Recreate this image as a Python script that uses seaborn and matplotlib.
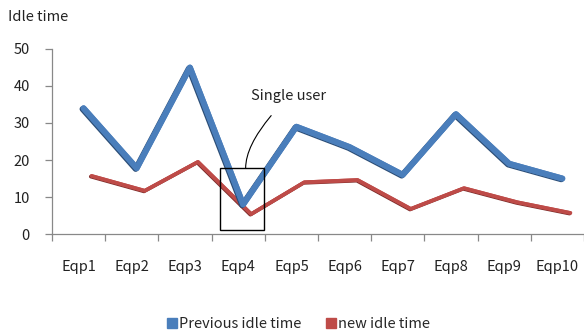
import matplotlib
matplotlib.use("Agg")
import matplotlib.pyplot as plt
import matplotlib.patheffects as pe
from matplotlib.patches import Rectangle
from matplotlib.lines import Line2D
from matplotlib.transforms import ScaledTranslation
import seaborn as sns
import pandas as pd

equipment = ["Eqp1", "Eqp2", "Eqp3", "Eqp4", "Eqp5", "Eqp6", "Eqp7", "Eqp8", "Eqp9", "Eqp10"]
previous_idle = [34, 17.8, 45, 8, 29, 23.5, 16, 32.4, 19, 15]
new_idle = [15.7, 11.7, 19.5, 5.4, 14, 14.6, 6.8, 12.4, 8.6, 5.7]
y_ticks = [0, 10, 20, 30, 40, 50]

sns.set_style("white")
plt.rcParams["font.family"] = ["Noto Sans CJK KR", "DejaVu Sans"]

df = pd.DataFrame({
    "pos": list(range(len(equipment))) * 2,
    "value": previous_idle + new_idle,
    "series": ["Previous idle time"] * len(equipment) + ["new idle time"] * len(equipment),
})

blue = "#4a7ebb"
red = "#be4b48"

fig = plt.figure(figsize=(5.84, 3.31), dpi=100)
ax = fig.add_axes([0.089, 0.293, 0.911, 0.559])

sns.lineplot(data=df, x="pos", y="value", hue="series",
             palette={"Previous idle time": blue, "new idle time": red},
             ax=ax, legend=False, sort=False)

lines = ax.get_lines()
# slight depth offset for the ribbon-like lines
lines[0].set_linewidth(4.2)
lines[0].set_path_effects([pe.withStroke(linewidth=4.2, foreground="#2d4f78", offset=(-0.8, -0.6)), pe.Normal()])
lines[0].set_transform(lines[0].get_transform() + ScaledTranslation(5 / 100, 0, fig.dpi_scale_trans))
lines[1].set_linewidth(2.6)
lines[1].set_path_effects([pe.withStroke(linewidth=2.6, foreground="#7e2d2b", offset=(-0.6, -0.5)), pe.Normal()])
lines[1].set_transform(lines[1].get_transform() + ScaledTranslation(13 / 100, 0, fig.dpi_scale_trans))
lines[0].set_zorder(3)
lines[1].set_zorder(2)

ax.set_xlim(-0.5, 9.5)
ax.set_ylim(0, 50)
ax.set_yticks(y_ticks)
ax.set_yticklabels([str(v) for v in y_ticks], fontsize=10.5, color="#222222")
ax.set_xticks(range(len(equipment)))
ax.set_xticklabels(equipment, fontsize=10.5, color="#222222")
ax.set_xticks([i + 0.5 for i in range(-1, len(equipment))], minor=True)
ax.tick_params(axis="x", which="major", length=0, pad=19)
ax.tick_params(axis="x", which="minor", length=5, width=0.9, color="#888888", direction="out", bottom=True)
ax.tick_params(axis="y", length=5, width=0.9, color="#888888", direction="out", left=True, pad=11)
ax.set_xlabel("")
ax.set_ylabel("")

for side in ["top", "right"]:
    ax.spines[side].set_visible(False)
for side in ["left", "bottom"]:
    ax.spines[side].set_color("#888888")
    ax.spines[side].set_linewidth(0.9)

fig.text(8 / 584, 1 - 17 / 331, "Idle time", fontsize=10.5, color="#222222", va="center", ha="left")

# highlight box around the single-user equipment
ax.add_patch(Rectangle((2.65, 1.1), 0.83, 16.7, fill=False, edgecolor="black", linewidth=1.0, zorder=5))
ax.annotate("", xy=(3.62, 32.0), xytext=(3.14, 17.8),
            arrowprops=dict(arrowstyle="-", color="black", linewidth=0.8,
                            shrinkA=0, shrinkB=0,
                            connectionstyle="angle3,angleA=90,angleB=50"))
ax.text(3.25, 37.3, "Single user", fontsize=10.5, color="#222222", ha="left", va="center")

# legend
handles = [Line2D([], [], marker="s", linestyle="", color=blue, markersize=7),
           Line2D([], [], marker="s", linestyle="", color=red, markersize=7)]
fig.legend(handles, ["Previous idle time", "new idle time"], loc="center",
           bbox_to_anchor=(0.51, 1 - 324 / 331), ncol=2, frameon=False,
           fontsize=10.5, handletextpad=0.1, columnspacing=1.6, handlelength=0.8)

fig.savefig("out.png", dpi=100)
